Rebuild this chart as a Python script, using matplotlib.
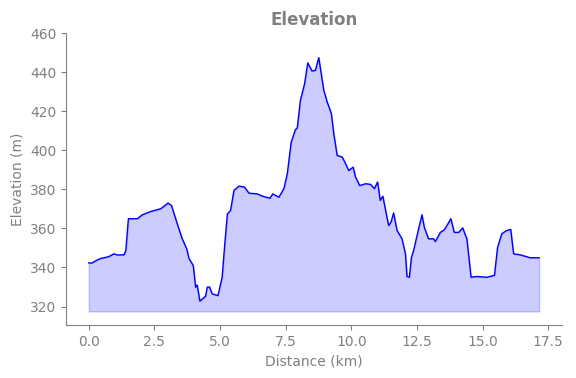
import matplotlib
matplotlib.use("Agg")
import matplotlib.pyplot as plt

# elevation profile
distance_km = [0.0, 0.1, 0.33, 0.45, 0.58, 0.75, 0.96, 1.1, 1.34, 1.41, 1.51, 1.85, 2.04, 2.36, 2.74, 3.02,
               3.15, 3.37, 3.56, 3.73, 3.82, 3.98, 4.07, 4.13, 4.23, 4.45, 4.51, 4.6,
               4.7, 4.92, 5.08, 5.17, 5.28, 5.4, 5.53, 5.72, 5.93, 6.1, 6.42, 6.6,
               6.9, 7.01, 7.24, 7.43, 7.56, 7.71, 7.87, 7.94, 8.06, 8.22, 8.34, 8.5,
               8.63, 8.76, 8.95, 9.08, 9.24, 9.33, 9.46, 9.65, 9.78, 9.9, 10.07, 10.16,
               10.32, 10.54, 10.73, 10.88, 11.0, 11.1, 11.2, 11.33, 11.42, 11.51, 11.61,
               11.74, 11.93, 12.06, 12.12, 12.21, 12.29, 12.37, 12.53, 12.69, 12.78,
               12.94, 13.13, 13.2, 13.39, 13.54, 13.64, 13.79, 13.92, 14.09, 14.24,
               14.4, 14.56, 14.78, 15.16, 15.45, 15.57, 15.73, 15.92, 16.07, 16.18,
               16.43, 16.81, 17.15]
elevation_m = [342.4, 342.2, 343.9, 344.6, 345.0, 345.5, 347.0, 346.4, 346.5, 348.7, 365.0, 365.0, 367.0, 368.7, 370.1, 373.0,
               371.8, 362.4, 354.7, 349.6, 344.5, 341.0, 329.9, 331.0, 322.8, 325.3, 329.9, 330.0,
               326.5, 325.6, 335.0, 350.4, 367.5, 369.2, 379.5, 381.7, 381.2, 378.1, 377.7, 376.6,
               375.5, 377.7, 376.0, 380.4, 388.0, 404.3, 410.6, 411.5, 425.6, 434.2, 444.8, 440.7,
               441.0, 447.5, 430.8, 424.8, 418.8, 408.6, 397.4, 396.6, 393.2, 389.7, 391.4, 386.3,
               382.0, 382.9, 382.6, 380.4, 383.8, 374.4, 376.5, 367.5, 361.5, 363.2, 367.9,
               359.0, 354.7, 347.0, 335.4, 335.0, 345.3, 348.7, 358.0, 367.0, 360.6,
               354.7, 354.7, 353.3, 358.0, 359.3, 361.5, 365.0, 358.0, 358.0, 360.3,
               354.7, 335.0, 335.4, 335.0, 336.0, 350.4, 357.3, 359.0, 359.5, 347.0,
               346.5, 345.0, 345.0]
fill_floor = 317.5

grey = "#808080"

fig, ax = plt.subplots(figsize=(5.76, 3.78), dpi=100)
ax.fill_between(distance_km, elevation_m, fill_floor, color="blue", alpha=0.2)
ax.plot(distance_km, elevation_m, color="blue", lw=1)

ax.set_ylim(310.5, 460)
ax.set_title("Elevation", color=grey, fontweight="bold", fontsize=12)
ax.set_xlabel("Distance (km)", color=grey)
ax.set_ylabel("Elevation (m)", color=grey)
ax.tick_params(colors=grey, labelcolor=grey)
for side in ["top", "right"]:
    ax.spines[side].set_visible(False)
for side in ["left", "bottom"]:
    ax.spines[side].set_color(grey)

plt.subplots_adjust(left=0.115, right=0.975, top=0.912, bottom=0.14)
plt.savefig("out.png", dpi=100)
